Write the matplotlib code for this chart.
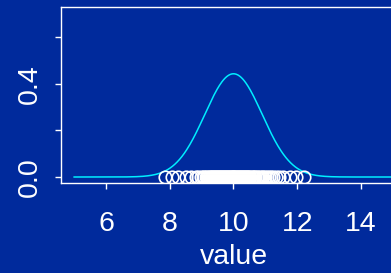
import numpy as np
import matplotlib
matplotlib.use("Agg")
import matplotlib.pyplot as plt

plt.rcParams['font.family'] = ['Liberation Sans', 'DejaVu Sans']

# data
values = [7.86, 8.07, 8.26, 8.51, 8.67, 8.82, 8.9, 8.97, 9.03, 9.08, 9.13, 9.18,
          9.22, 9.26, 9.3, 9.34, 9.37, 9.4, 9.43, 9.46, 9.49, 9.52, 9.55, 9.58,
          9.61, 9.64, 9.67, 9.7, 9.73, 9.76, 9.79, 9.82, 9.85, 9.88, 9.91, 9.94,
          9.97, 10.0, 10.03, 10.06, 10.09, 10.12, 10.15, 10.18, 10.21, 10.24,
          10.27, 10.3, 10.33, 10.36, 10.39, 10.42, 10.45, 10.49, 10.53, 10.57,
          10.61, 10.65, 10.69, 10.73, 10.78, 10.83, 10.88, 10.93, 10.98, 11.04,
          11.1, 11.17, 11.24, 11.33, 11.42, 11.55, 11.77, 11.96, 12.21]
dens_mean = 10.0
dens_sd = 0.9
x_range = (5.0, 15.0)
xticks = [6, 8, 10, 12, 14]
yticks = [0.0, 0.2, 0.4, 0.6]
yticklabels = ['0.0', '', '0.4', '']

bg = '#002a9c'
fig = plt.figure(figsize=(3.91, 2.73), dpi=100, facecolor=bg)
ax = fig.add_axes([0.157, 0.3297, 0.8803, 0.6447], facecolor=bg)

xs = np.linspace(x_range[0], x_range[1], 400)
ys = np.exp(-0.5 * ((xs - dens_mean) / dens_sd) ** 2) / (dens_sd * np.sqrt(2 * np.pi))
ax.plot(xs, ys, color='#00eeff', lw=1.1, zorder=2)
ax.plot(values, np.zeros(len(values)), linestyle='none', marker='o', ms=9,
        mfc='none', mec='white', mew=1.2, zorder=3)

ax.set_xlim(4.6, 15.4)
ax.set_ylim(-0.0257, 0.73)
ax.set_xticks(xticks)
ax.set_xticklabels([str(t) for t in xticks])
ax.set_yticks(yticks)
ax.set_yticklabels(yticklabels, rotation=90, va='center')
for s in ax.spines.values():
    s.set_color('white')
    s.set_linewidth(1.0)
ax.tick_params(colors='white', labelsize=20.5, length=4, width=1.0)
ax.tick_params(axis='x', pad=16)
ax.tick_params(axis='y', pad=9)
ax.set_xlabel('value', color='white', fontsize=20.5, labelpad=5)

fig.savefig('out.png', dpi=100, facecolor=bg)
